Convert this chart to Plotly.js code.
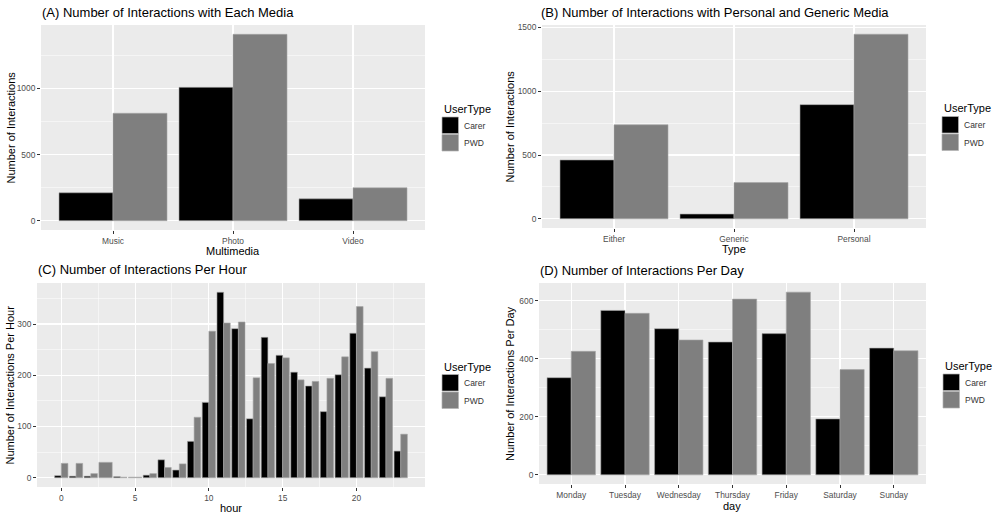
<!DOCTYPE html>
<html>
<head>
<meta charset="utf-8">
<script src="https://cdn.plot.ly/plotly-3.0.1.min.js"></script>
<style>
html,body{margin:0;padding:0;background:#fff;}
#chart{width:997px;height:518px;}
</style>
</head>
<body>
<div id="chart"></div>
<script>
// ---- Data ----
const userTypes = ["Carer", "PWD"];

const mediaCategories = ["Music", "Photo", "Video"];
const mediaCarer = [211, 1008, 165];
const mediaPWD = [812, 1409, 249];

const typeCategories = ["Either", "Generic", "Personal"];
const typeCarer = [461, 37, 895];
const typePWD = [737, 284, 1447];

const hours = [0,1,2,3,4,5,6,7,8,9,10,11,12,13,14,15,16,17,18,19,20,21,22,23];
const hourCarer = [4,3,3,null,2,null,5,35,15,71,147,362,291,115,274,239,206,179,129,201,282,214,158,52];
const hourPWD   = [28,28,8,30,1,1,8,20,27,118,286,302,304,195,223,234,191,188,194,236,334,246,194,85];

const days = ["Monday","Tuesday","Wednesday","Thursday","Friday","Saturday","Sunday"];
const dayCarer = [335, 567, 504, 458, 487, 193, 437];
const dayPWD   = [426, 557, 465, 606, 630, 363, 428];

// ---- Styling ----
const W = 997, H = 518;
const px = x => x / W;
const py = y => 1 - y / H;
const FONT = "Liberation Sans, Arial, Helvetica, sans-serif";
const CARER = "#000000", PWDC = "#7f7f7f";
const barLine = {color: "#a6a6a6", width: 0.6};

function barTrace(x, y, color, name, xa, ya) {
  return {type: "bar", x: x, y: y, name: name, xaxis: xa, yaxis: ya,
          marker: {color: color, line: barLine}, showlegend: false, hoverinfo: "x+y+name"};
}

// hour panel: ggplot dodge -> full width when only one group present
const fullW = 0.9, halfW = 0.45;
const carerOffset = hours.map(() => -halfW);
const carerWidth = hours.map(() => halfW);
const pwdOffset = hours.map((h, i) => hourCarer[i] === null ? -halfW : 0);
const pwdWidth = hours.map((h, i) => hourCarer[i] === null ? fullW : halfW);

const traces = [
  barTrace(mediaCategories, mediaCarer, CARER, userTypes[0], "x", "y"),
  barTrace(mediaCategories, mediaPWD, PWDC, userTypes[1], "x", "y"),
  barTrace(typeCategories, typeCarer, CARER, userTypes[0], "x2", "y2"),
  barTrace(typeCategories, typePWD, PWDC, userTypes[1], "x2", "y2"),
  Object.assign(barTrace(hours, hourCarer, CARER, userTypes[0], "x3", "y3"), {offset: carerOffset, width: carerWidth}),
  Object.assign(barTrace(hours, hourPWD, PWDC, userTypes[1], "x3", "y3"), {offset: pwdOffset, width: pwdWidth}),
  barTrace(days, dayCarer, CARER, userTypes[0], "x4", "y4"),
  barTrace(days, dayPWD, PWDC, userTypes[1], "x4", "y4")
];

const tickFont = {family: FONT, size: 8.4, color: "#4d4d4d"};
function xAxis(domain, anchor, extra) {
  return Object.assign({
    domain: domain, anchor: anchor, showgrid: true, gridcolor: "#ffffff", gridwidth: 1.1,
    zeroline: false, showline: false, ticks: "outside", ticklen: 3, tickwidth: 1, tickcolor: "#333333",
    tickfont: tickFont, fixedrange: true
  }, extra);
}
function yAxis(domain, anchor, range, dtick, extra) {
  return Object.assign({
    domain: domain, anchor: anchor, range: range, dtick: dtick, tick0: 0,
    showgrid: true, gridcolor: "#ffffff", gridwidth: 1.1,
    minor: {dtick: dtick / 2, tick0: 0, showgrid: true, gridcolor: "#ffffff", gridwidth: 0.5},
    zeroline: false, showline: false, ticks: "outside", ticklen: 3, tickwidth: 1, tickcolor: "#333333",
    tickfont: tickFont, fixedrange: true
  }, extra);
}

function expand(maxv) { return [-0.05 * maxv, 1.05 * maxv]; }
const maxOf = arrs => Math.max.apply(null, arrs.flat().filter(v => v !== null));

const layout = {
  width: W, height: H,
  margin: {l: 0, r: 0, t: 0, b: 0},
  paper_bgcolor: "#ffffff", plot_bgcolor: "#ebebeb",
  barmode: "group", bargap: 0.1, bargroupgap: 0,
  showlegend: false,
  font: {family: FONT},
  xaxis:  xAxis([px(41), px(425)], "y", {type: "category", range: [-0.6, 2.6]}),
  yaxis:  yAxis([py(230), py(25)], "x", expand(maxOf([mediaCarer, mediaPWD])), 500),
  xaxis2: xAxis([px(542), px(926)], "y2", {type: "category", range: [-0.6, 2.6]}),
  yaxis2: yAxis([py(228), py(25)], "x2", expand(maxOf([typeCarer, typePWD])), 500),
  xaxis3: xAxis([px(37), px(425)], "y3", {type: "linear", range: [-1.645, 24.645], dtick: 5, tick0: 0,
            minor: {dtick: 2.5, tick0: 0, showgrid: true, gridcolor: "#ffffff", gridwidth: 0.5}}),
  yaxis3: yAxis([py(487), py(283)], "x3", expand(maxOf([hourCarer, hourPWD])), 100),
  xaxis4: xAxis([px(539), px(926)], "y4", {type: "category", range: [-0.6, 6.6]}),
  yaxis4: yAxis([py(484), py(283)], "x4", expand(maxOf([dayCarer, dayPWD])), 200),
  annotations: [],
  shapes: []
};

function ann(text, x, y, size, opts) {
  layout.annotations.push(Object.assign({
    text: text, xref: "paper", yref: "paper", x: px(x), y: py(y),
    showarrow: false, font: {family: FONT, size: size, color: "#000000"},
    xanchor: "center", yanchor: "middle"
  }, opts || {}));
}

// Titles
ann("(A) Number of Interactions with Each Media", 40, 13, 13, {xanchor: "left"});
ann("(B) Number of Interactions with Personal and Generic Media", 539, 13, 13, {xanchor: "left"});
ann("(C) Number of Interactions Per Hour", 36, 269, 13, {xanchor: "left"});
ann("(D) Number of Interactions Per Day", 538, 270, 13, {xanchor: "left"});

// Axis titles
ann("Multimedia", 233, 250.5, 11);
ann("Type", 734, 248.5, 11);
ann("hour", 231, 507.5, 11);
ann("day", 732, 506, 11);
ann("Number of Interactions", 10, 127.5, 11, {textangle: -90});
ann("Number of Interactions", 509, 126.5, 11, {textangle: -90});
ann("Number of Interactions Per Hour", 9.5, 385, 11, {textangle: -90});
ann("Number of Interactions Per Day", 509.5, 383.5, 11, {textangle: -90});

// Legends (one per panel, as in the facetted original)
function legend(x, titleY) {
  ann("UserType", x, titleY, 11, {xanchor: "left"});
  const keys = [CARER, PWDC];
  keys.forEach((c, i) => {
    const top = titleY + 8 + i * 17.5;
    layout.shapes.push({type: "rect", xref: "paper", yref: "paper",
      x0: px(x), x1: px(x + 16.5), y0: py(top + 16.5), y1: py(top),
      fillcolor: c, line: {color: "#b3b3b3", width: 0.7}});
    ann(userTypes[i], x + 19.5, top + 8.5, 8.5, {xanchor: "left", font: {family: FONT, size: 8.5, color: "#333333"}});
  });
}
legend(442, 109);
legend(942, 108.5);
legend(442, 366.5);
legend(943, 366);

Plotly.newPlot("chart", traces, layout, {staticPlot: true, displayModeBar: false});
</script>
</body>
</html>
